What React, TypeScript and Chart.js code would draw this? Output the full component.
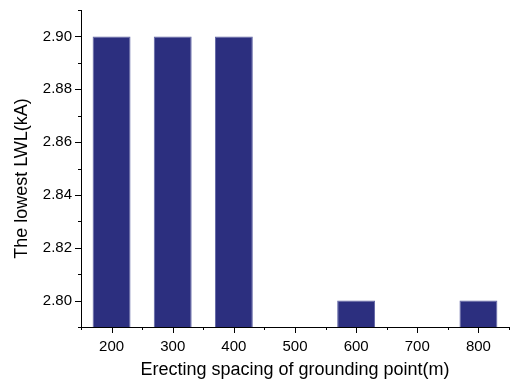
import { useEffect, useRef } from 'react';
import { Chart, registerables } from 'chart.js';

Chart.register(...registerables);

const categories = ['200', '300', '400', '500', '600', '700', '800'];
const lowestLWL: (number | null)[] = [2.9, 2.9, 2.9, null, 2.8, null, 2.8];
const yMajorTicks = [2.8, 2.82, 2.84, 2.86, 2.88, 2.9];
const yMinorTicks = [2.79, 2.81, 2.83, 2.85, 2.87, 2.89, 2.91];
const xMinorTicks = [-0.5, 0.5, 1.5, 2.5, 3.5, 4.5, 5.5, 6.5];
const yMin = 2.79;
const yMax = 2.91;
const xTitle = 'Erecting spacing of grounding point(m)';
const yTitle = 'The lowest LWL(kA)';

const FONT = '"Liberation Sans", Arial, sans-serif';

const axisPlugin = {
  id: 'axisTicksAndTitle',
  afterDraw(chart: any) {
    const { ctx, chartArea, scales } = chart;
    const x = scales.x;
    const y = scales.y;
    ctx.save();
    ctx.strokeStyle = '#000';
    ctx.lineWidth = 1;
    ctx.beginPath();
    const left = chartArea.left;
    const bottom = chartArea.bottom;
    yMajorTicks.forEach((v) => {
      const py = Math.round(y.getPixelForValue(v)) + 0.5;
      ctx.moveTo(left, py);
      ctx.lineTo(left - 6, py);
    });
    yMinorTicks.forEach((v) => {
      const py = Math.round(y.getPixelForValue(v)) + 0.5;
      ctx.moveTo(left, py);
      ctx.lineTo(left - 3, py);
    });
    categories.forEach((_c, i) => {
      const px = Math.round(x.getPixelForValue(i)) + 0.5;
      ctx.moveTo(px, bottom);
      ctx.lineTo(px, bottom + 6);
    });
    xMinorTicks.forEach((v) => {
      const px = Math.round(x.getPixelForValue(v)) + 0.5;
      ctx.moveTo(px, bottom);
      ctx.lineTo(px, bottom + 3);
    });
    ctx.stroke();

    ctx.fillStyle = '#000';
    ctx.font = `18px ${FONT}`;
    ctx.textAlign = 'center';
    ctx.textBaseline = 'middle';
    ctx.translate(22, (chartArea.top + chartArea.bottom) / 2 + 10);
    ctx.rotate(-Math.PI / 2);
    ctx.fillText(yTitle, 0, 0);
    ctx.restore();
  },
};

export default function App() {
  const canvasRef = useRef<HTMLCanvasElement | null>(null);

  useEffect(() => {
    const canvas = canvasRef.current;
    if (!canvas) return;
    const chart = new Chart(canvas, {
      type: 'bar',
      data: {
        labels: categories,
        datasets: [
          {
            data: lowestLWL as any,
            backgroundColor: '#2c2f7f',
            borderColor: '#5f63a4',
            borderWidth: 1,
            categoryPercentage: 1,
            barPercentage: 0.62,
          },
        ],
      },
      options: {
        animation: false,
        responsive: true,
        maintainAspectRatio: false,
        layout: { padding: { left: 0, right: 1, top: 10, bottom: 0 } },
        plugins: {
          legend: { display: false },
          tooltip: { enabled: false },
        },
        scales: {
          x: {
            type: 'category',
            offset: true,
            grid: { display: false, drawTicks: false },
            border: { display: true, color: '#000', width: 1 },
            ticks: {
              color: '#000',
              font: { family: FONT, size: 15 },
              padding: 11,
              maxRotation: 0,
              autoSkip: false,
            },
            title: {
              display: true,
              text: xTitle,
              color: '#000',
              font: { family: FONT, size: 18 },
              padding: { top: 0, bottom: 4 },
            },
            afterFit: (s: any) => {
              s.height = 58;
              s.paddingLeft = 0;
              s.paddingRight = 0;
            },
          },
          y: {
            type: 'linear',
            min: yMin,
            max: yMax,
            grid: { display: false, drawTicks: false },
            border: { display: true, color: '#000', width: 1 },
            ticks: {
              color: '#000',
              font: { family: FONT, size: 15 },
              padding: 9,
              callback: (v: any) => Number(v).toFixed(2),
            },
            afterBuildTicks: (s: any) => {
              s.ticks = yMajorTicks.map((v) => ({ value: v }));
            },
            afterFit: (s: any) => {
              s.width = 81;
              s.paddingTop = 0;
              s.paddingBottom = 0;
            },
          },
        },
      },
      plugins: [axisPlugin],
    });
    return () => chart.destroy();
  }, []);

  return (
    <div style={{ position: 'fixed', left: 0, top: 0, width: 510, height: 385, background: '#fff' }}>
      <canvas ref={canvasRef} />
    </div>
  );
}
